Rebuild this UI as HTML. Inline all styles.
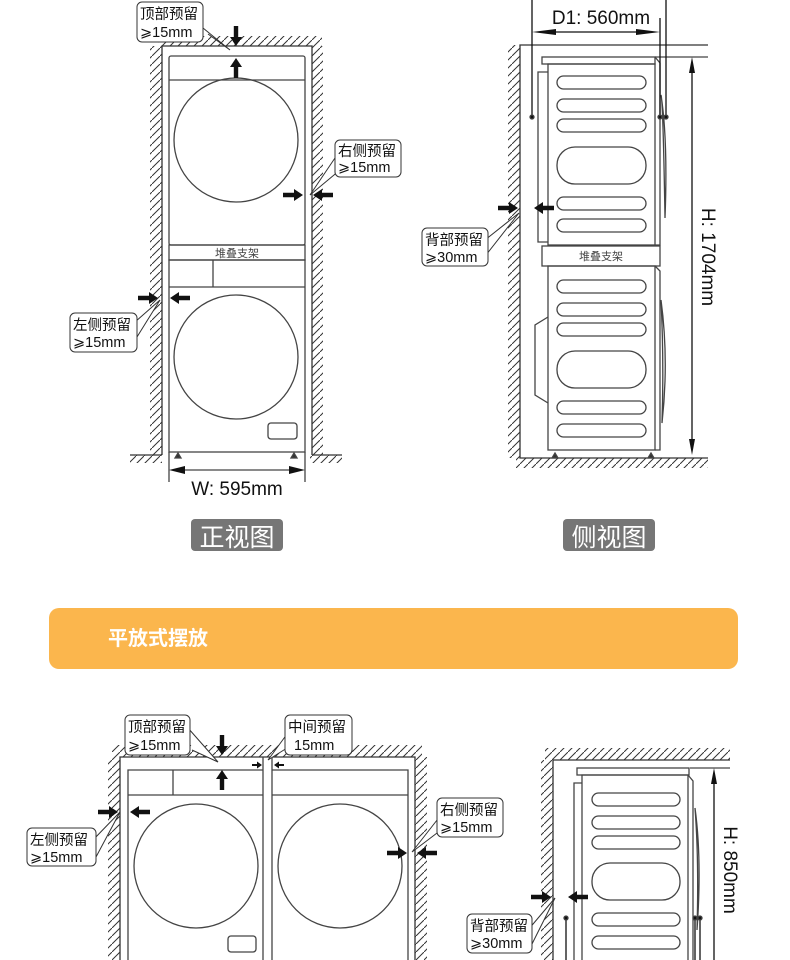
<!DOCTYPE html>
<html><head><meta charset="utf-8"><style>
html,body{margin:0;padding:0;background:#fff;width:790px;height:960px;overflow:hidden}
svg{display:block}
text{font-family:"Liberation Sans","Noto Sans CJK SC",sans-serif}
</style></head><body>
<svg width="790" height="960" viewBox="0 0 790 960" xmlns="http://www.w3.org/2000/svg">
<defs>
<pattern id="h" patternUnits="userSpaceOnUse" width="8" height="8">
<path d="M-1,9 L9,-1" stroke="#333" stroke-width="1"/>
</pattern>
<path id="ar" d="M0,-2.2 H11 V-6 L20,0 L11,6 V2.2 H0 Z" fill="#111"/>
<path id="as" d="M0,-1 H5 V-3.5 L10,0 L5,3.5 V1 H0 Z" fill="#111"/>
</defs>
<g fill="none" stroke="#444" stroke-width="1.3">

<rect x="150" y="46" width="12" height="409" fill="url(#h)" stroke="none"/>
<rect x="130" y="455" width="32" height="8" fill="url(#h)" stroke="none"/>
<rect x="158" y="36" width="164" height="10" fill="url(#h)" stroke="none"/>
<rect x="312" y="46" width="11" height="409" fill="url(#h)" stroke="none"/>
<rect x="310" y="455" width="32" height="8" fill="url(#h)" stroke="none"/>
<path d="M162,455 V46 H312 V455" stroke="#333"/>
<path d="M130,455 H162 M312,455 H342" stroke="#333"/>
<rect x="169" y="56" width="136" height="189" rx="2"/>
<line x1="169" y1="80" x2="305" y2="80"/>
<circle cx="236" cy="140" r="62"/>
<rect x="169" y="245" width="136" height="15"/>
<rect x="169" y="260" width="136" height="192"/>
<line x1="169" y1="287" x2="305" y2="287"/>
<line x1="213" y1="260" x2="213" y2="287"/>
<circle cx="236" cy="357" r="62"/>
<rect x="268" y="423" width="29" height="16" rx="3"/>
<path d="M175,458 l3,-5 l3,5z M291,458 l3,-5 l3,5z" fill="#333"/>
<path d="M169,452 V482 M305,452 V482"/>
<line x1="183" y1="470" x2="291" y2="470"/>
<path d="M169,470 l16,-4 v8z M305,470 l-16,-4 v8z" fill="#111" stroke="none"/>

<rect x="508" y="45" width="12" height="413" fill="url(#h)" stroke="none"/>
<rect x="516" y="458" width="192" height="10" fill="url(#h)" stroke="none"/>
<path d="M708,45 H520 V458 H708" stroke="#333"/>
<line x1="655" y1="57" x2="708" y2="57"/>
<rect x="542" y="57" width="113" height="7"/>
<rect x="548" y="64" width="107" height="181"/>
<path d="M548,72 H538 V242 H548"/>
<path d="M655,57 L660,63 V245 H655"/>
<path d="M661,95 Q668,140 665,218 Q663,100 661,95"/>
<rect x="557" y="76" width="89" height="13" rx="6.5"/>
<rect x="557" y="99" width="89" height="13" rx="6.5"/>
<rect x="557" y="119" width="89" height="13" rx="6.5"/>
<rect x="557" y="147" width="89" height="37" rx="18"/>
<rect x="557" y="197" width="89" height="13" rx="6.5"/>
<rect x="557" y="219" width="89" height="13" rx="6.5"/>
<rect x="542" y="246" width="118" height="20"/>
<rect x="548" y="266" width="107" height="184"/>
<path d="M655,266 L660,271 V450 H655"/>
<path d="M548,317 L535,325 V395 L548,403"/>
<path d="M661,300 Q669,360 662,423 Q664,360 661,300"/>
<rect x="557" y="280" width="89" height="13" rx="6.5"/>
<rect x="557" y="303" width="89" height="13" rx="6.5"/>
<rect x="557" y="323" width="89" height="13" rx="6.5"/>
<rect x="557" y="351" width="89" height="37" rx="18"/>
<rect x="557" y="401" width="89" height="13" rx="6.5"/>
<rect x="557" y="424" width="89" height="13" rx="6.5"/>
<path d="M552,458 l3,-5 l3,5z M648,458 l3,-5 l3,5z" fill="#333"/>
<path d="M532,0 V117 M660,18 V117 M666,0 V117" stroke="#111"/>
<circle cx="532" cy="117" r="2" fill="#111"/><circle cx="660" cy="117" r="2" fill="#111"/><circle cx="666" cy="117" r="2" fill="#111"/>
<line x1="545" y1="32" x2="648" y2="32" stroke="#111"/>
<path d="M532,32 l24,-3 v6z M660,32 l-24,-3 v6z" fill="#111" stroke="none"/>
<line x1="692" y1="70" x2="692" y2="443" stroke="#111"/>
<path d="M692,57 l-3,16 h6z M692,455 l-3,-16 h6z" fill="#111" stroke="none"/>

<rect x="108" y="757" width="12" height="203" fill="url(#h)" stroke="none"/>
<rect x="112" y="745" width="310" height="12" fill="url(#h)" stroke="none"/>
<rect x="415" y="757" width="12" height="203" fill="url(#h)" stroke="none"/>
<path d="M120,960 V757 H415 V960" stroke="#333"/>
<path d="M263,757 V960 M272,757 V960"/>
<path d="M128,960 V770 H263 M272,770 H408 V960"/>
<line x1="128" y1="795" x2="263" y2="795"/>
<line x1="272" y1="795" x2="408" y2="795"/>
<line x1="173" y1="770" x2="173" y2="795"/>
<circle cx="196" cy="866" r="62"/>
<circle cx="340" cy="866" r="62"/>
<rect x="228" y="936" width="28" height="16" rx="3"/>

<rect x="541" y="760" width="12" height="200" fill="url(#h)" stroke="none"/>
<rect x="545" y="748" width="185" height="12" fill="url(#h)" stroke="none"/>
<path d="M553,960 V760 H730" stroke="#333"/>
<line x1="690" y1="768" x2="730" y2="768"/>
<rect x="577" y="768" width="112" height="7"/>
<path d="M582,960 V775 H688 V960"/>
<path d="M688,775 L693,781 V960"/>
<path d="M582,783 H574 V960"/>
<path d="M695,808 Q702,860 697,930 Q699,860 695,808"/>
<rect x="592" y="793" width="88" height="13" rx="6.5"/>
<rect x="592" y="816" width="88" height="13" rx="6.5"/>
<rect x="592" y="836" width="88" height="13" rx="6.5"/>
<rect x="592" y="863" width="88" height="37" rx="18"/>
<rect x="592" y="913" width="88" height="13" rx="6.5"/>
<rect x="592" y="936" width="88" height="13" rx="6.5"/>
<path d="M566,918 V960 M695,918 V960 M700,918 V960" stroke="#111"/>
<circle cx="566" cy="918" r="2" fill="#111"/><circle cx="695" cy="918" r="2" fill="#111"/><circle cx="700" cy="918" r="2" fill="#111"/>
<line x1="714" y1="780" x2="714" y2="960" stroke="#111"/>
<path d="M714,768 l-3,16 h6z" fill="#111" stroke="none"/>
</g>

<use href="#ar" transform="translate(236,26) rotate(90)"/>
<use href="#ar" transform="translate(236,78) rotate(-90)"/>
<use href="#ar" transform="translate(283,195)"/>
<use href="#ar" transform="translate(333,195) rotate(180)"/>
<use href="#ar" transform="translate(138,298)"/>
<use href="#ar" transform="translate(190,298) rotate(180)"/>
<use href="#ar" transform="translate(498,208)"/>
<use href="#ar" transform="translate(554,208) rotate(180)"/>
<use href="#ar" transform="translate(222,735) rotate(90)"/>
<use href="#ar" transform="translate(222,790) rotate(-90)"/>
<use href="#as" transform="translate(252,765)"/>
<use href="#as" transform="translate(284,765) rotate(180)"/>
<use href="#ar" transform="translate(98,812)"/>
<use href="#ar" transform="translate(150,812) rotate(180)"/>
<use href="#ar" transform="translate(387,853)"/>
<use href="#ar" transform="translate(437,853) rotate(180)"/>
<use href="#ar" transform="translate(531,897)"/>
<use href="#ar" transform="translate(588,897) rotate(180)"/>

<g fill="#fff" stroke="#333" stroke-width="1">
<path d="M203,28 L230,50 L208,34"/>
<rect x="137" y="2" width="66" height="40" rx="5"/>
<path d="M340,170 L310,195 L337,155"/>
<rect x="335" y="140" width="66" height="37" rx="5"/>
<path d="M135,322 L160,300 L132,345"/>
<rect x="70" y="313" width="67" height="39" rx="5"/>
<path d="M485,240 L519,213 L486,255"/>
<rect x="422" y="228" width="66" height="38" rx="5"/>
<path d="M188,728 L218,762 L192,750"/>
<rect x="125" y="715" width="65" height="40" rx="5"/>
<path d="M290,730 L268,760 L287,748"/>
<rect x="285" y="715" width="67" height="40" rx="5"/>
<path d="M93,840 L120,812 L96,857"/>
<rect x="27" y="828" width="69" height="38" rx="5"/>
<path d="M441,815 L412,852 L441,830"/>
<rect x="437" y="798" width="66" height="39" rx="5"/>
<path d="M528,930 L555,898 L530,948"/>
<rect x="467" y="914" width="65" height="39" rx="5"/>
</g>

<g fill="#111" font-size="14.5">
<text x="140" y="19">顶部预留</text><text x="140" y="37">⩾15mm</text>
<text x="338" y="156">右侧预留</text><text x="338" y="172">⩾15mm</text>
<text x="73" y="330">左侧预留</text><text x="73" y="347">⩾15mm</text>
<text x="425" y="245">背部预留</text><text x="425" y="262">⩾30mm</text>
<text x="128" y="732">顶部预留</text><text x="128" y="750">⩾15mm</text>
<text x="288" y="732">中间预留</text><text x="294" y="750">15mm</text>
<text x="30" y="845">左侧预留</text><text x="30" y="862">⩾15mm</text>
<text x="440" y="815">右侧预留</text><text x="440" y="832">⩾15mm</text>
<text x="470" y="931">背部预留</text><text x="470" y="948">⩾30mm</text>
</g>
<g fill="#444" font-size="11" text-anchor="middle">
<text x="237" y="257">堆叠支架</text>
<text x="601" y="260">堆叠支架</text>
</g>
<g fill="#111" font-size="19">
<text x="237" y="495" text-anchor="middle">W: 595mm</text>
<text x="601" y="24" text-anchor="middle">D1: 560mm</text>
<text transform="translate(702,257) rotate(90)" text-anchor="middle">H: 1704mm</text>
<text transform="translate(724,870) rotate(90)" text-anchor="middle">H: 850mm</text>
</g>

<rect x="191" y="519" width="92" height="32" rx="4" fill="#767676"/>
<text x="237" y="546" fill="#fff" font-size="25" text-anchor="middle">正视图</text>
<rect x="563" y="519" width="92" height="32" rx="4" fill="#767676"/>
<text x="609" y="546" fill="#fff" font-size="25" text-anchor="middle">侧视图</text>

<rect x="49" y="608" width="689" height="61" rx="10" fill="#fbb64d"/>
<text x="108" y="645" fill="#fff" font-size="20" font-weight="bold">平放式摆放</text>
</svg>
</body></html>
